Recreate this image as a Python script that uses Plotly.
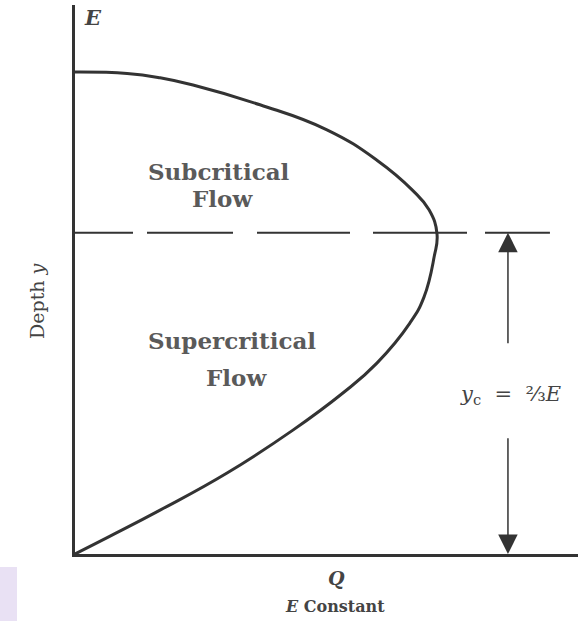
import plotly.graph_objects as go

# Curve (E = 1, Q normalised to its maximum)
Q_vals = [0.0, 0.144, 0.235, 0.326, 0.511, 0.696, 0.834, 0.932, 0.978, 1.0, 0.992,
          0.964, 0.925, 0.834, 0.740, 0.602, 0.420, 0.235, 0.097, 0.0]
depth_vals = [1.0, 0.997, 0.988, 0.973, 0.932, 0.880, 0.817, 0.755, 0.714, 0.664, 0.616,
              0.533, 0.479, 0.396, 0.334, 0.257, 0.168, 0.091, 0.037, 0.0]
E = 1.0
yc = 2.0 / 3.0 * E
dash_end_Q = 1.312
arrow_Q = 1.196
arrow_upper_tail = 0.434
arrow_lower_tail = 0.243

LINE = "#333333"
TXT = "#5a5a5a"
FONT = "DejaVu Serif"

fig = go.Figure()
fig.add_trace(go.Scatter(x=Q_vals, y=depth_vals, mode="lines",
                         line=dict(color=LINE, width=3, shape="spline", smoothing=1.3),
                         hoverinfo="skip", cliponaxis=False))
fig.add_trace(go.Scatter(x=[0, dash_end_Q], y=[yc, yc], mode="lines",
                         line=dict(color=LINE, width=2,
                                   dash="58px,14px,86px,24px,93px,23px,94px,18px,80px"),
                         hoverinfo="skip"))

W, H = 579, 621
L, T, PW, PH = 75, 5, 503, 549
xr = PW / 362.0
yr = PH / 482.0

def pxp(xp):
    return (xp - L) / PW

def pyp(yp):
    return (T + PH - yp) / PH

ann = []
def txt(t, x, y, size, color=TXT, angle=0, xanchor="center"):
    ann.append(dict(text=t, x=pxp(x), y=pyp(y), xref="paper", yref="paper", showarrow=False,
                    font=dict(family=FONT, size=size, color=color),
                    textangle=angle, xanchor=xanchor, yanchor="middle"))

txt("<b><i>E</i></b>", 93, 18, 21, color="#444444")
txt("<b>Subcritical</b>", 219, 172, 23)
txt("<b>Flow</b>", 222, 198, 23)
txt("<b>Supercritical</b>", 232, 340, 23)
txt("<b>Flow</b>", 236, 377, 23)
txt("Depth <i>y</i>", 37, 301, 19, color="#444444", angle=-90)
txt("<i>y</i><sub>c</sub>  =  ⅔<i>E</i>", 458, 395, 21, color="#444444", xanchor="left")
txt("<b><i>Q</i></b>", 336, 578, 19, color="#444444")
txt("<b><i>E</i> Constant</b>", 335, 606, 16, color="#444444")

for tail in (arrow_upper_tail, arrow_lower_tail):
    tip = yc if tail > yc / 2 else 0.0
    ann.append(dict(x=arrow_Q, y=tip, ax=arrow_Q, ay=tail, xref="x", yref="y",
                    axref="x", ayref="y", text="", showarrow=True, arrowhead=2,
                    arrowsize=2.6, arrowwidth=1.5, arrowcolor=LINE, standoff=0))

fig.update_layout(
    width=W, height=H, margin=dict(l=L, r=W - L - PW, t=T, b=H - T - PH),
    paper_bgcolor="white", plot_bgcolor="white", showlegend=False,
    annotations=ann,
    shapes=[dict(type="rect", xref="paper", yref="paper",
                 x0=pxp(0), x1=pxp(17), y0=pyp(621), y1=pyp(567),
                 fillcolor="#E9E1F4", line=dict(width=0), layer="below")],
    xaxis=dict(range=[0, xr], showline=True, linecolor=LINE, linewidth=3,
               showgrid=False, zeroline=False, showticklabels=False, ticks=""),
    yaxis=dict(range=[0, yr], showline=True, linecolor=LINE, linewidth=3,
               showgrid=False, zeroline=False, showticklabels=False, ticks=""),
)

fig.write_html("out.html", config={"displayModeBar": False},
               post_script="document.body.style.margin='0';document.body.style.overflow='hidden';")
